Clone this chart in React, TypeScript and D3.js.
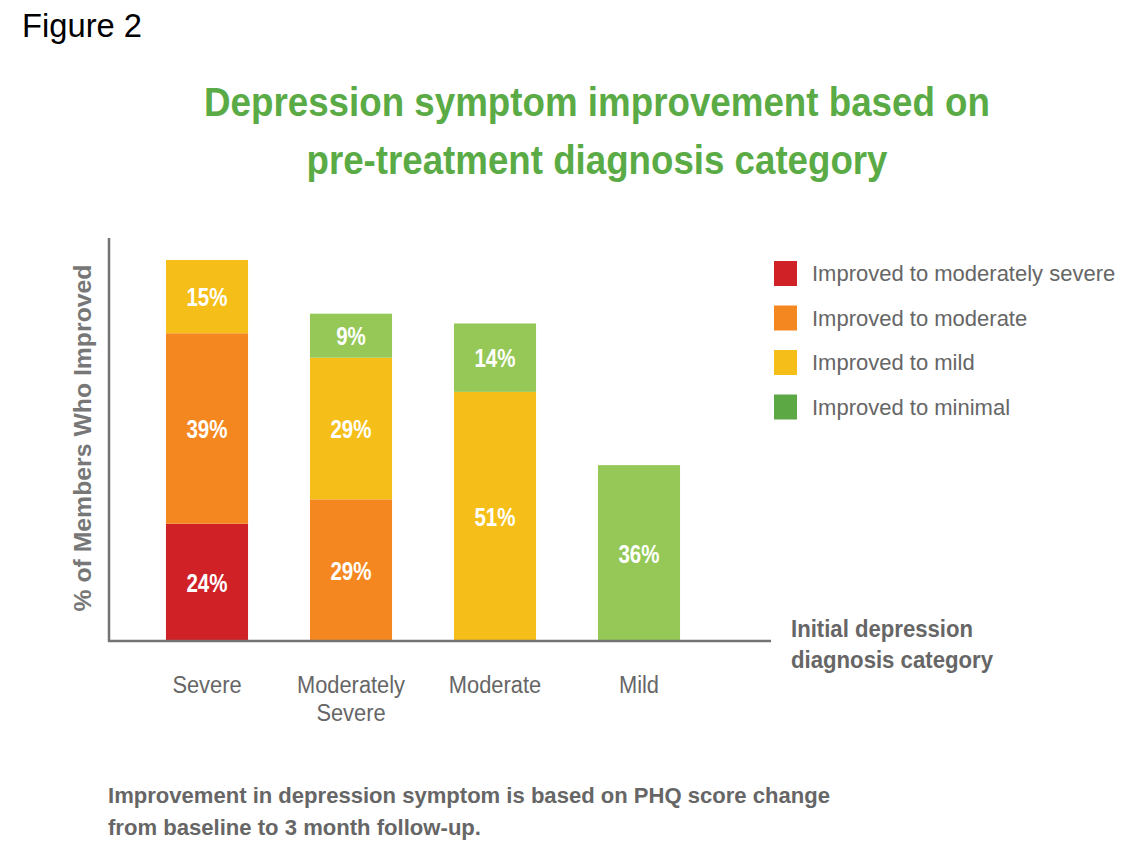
import { useEffect, useRef } from 'react';
import * as d3 from 'd3';

const categories = ['Severe', 'Moderately Severe', 'Moderate', 'Mild'];
const seriesNames = [
	'Improved to moderately severe',
	'Improved to moderate',
	'Improved to mild',
	'Improved to minimal',
];
// percent per category, in series order
const improvedModSevere = [24, 0, 0, 0];
const improvedModerate = [39, 29, 0, 0];
const improvedMild = [15, 29, 51, 0];
const improvedMinimal = [0, 9, 14, 36];

const barColors = ['#d02127', '#f58720', '#f5be18', '#95c857'];
const legendColors = ['#d02127', '#f58720', '#f5be18', '#5ba844'];

const W = 1141;
const H = 846;
const FONT = '"Liberation Sans", Arial, sans-serif';

// squeeze text horizontally so it looks like the narrower original face
const condense = (sel: d3.Selection<SVGTextElement, any, any, any>, f: number) => {
	sel.each(function () {
		const len = this.getComputedTextLength();
		d3.select(this).attr('textLength', len * f).attr('lengthAdjust', 'spacingAndGlyphs');
	});
};

export default function App() {
	const svgRef = useRef<SVGSVGElement>(null);

	useEffect(() => {
		const svg = d3.select(svgRef.current);
		svg.selectAll('*').remove();

		const rows = categories.map((c, i) => ({
			category: c,
			s0: improvedModSevere[i],
			s1: improvedModerate[i],
			s2: improvedMild[i],
			s3: improvedMinimal[i],
		}));
		const keys = ['s0', 's1', 's2', 's3'];
		const stacked = d3.stack<any>().keys(keys)(rows);

		const x = d3.scaleBand()
			.domain(categories)
			.range([135, 711])
			.paddingInner(0.43)
			.paddingOuter(0.215);

		const y = d3.scaleLinear()
			.domain([0, 100])
			.range([641, 152.5]);

		// figure label
		svg.append('text')
			.attr('x', 22).attr('y', 37)
			.attr('font-family', FONT).attr('font-size', 33)
			.attr('fill', '#000')
			.attr('textLength', 120).attr('lengthAdjust', 'spacingAndGlyphs')
			.text('Figure 2');

		// title
		const titleLines = [
			{ t: 'Depression symptom improvement based on', y: 116, w: 786 },
			{ t: 'pre-treatment diagnosis category', y: 174, w: 581 },
		];
		titleLines.forEach(l => {
			svg.append('text')
				.attr('x', 597).attr('y', l.y)
				.attr('text-anchor', 'middle')
				.attr('font-family', FONT).attr('font-size', 41).attr('font-weight', 'bold')
				.attr('fill', '#5aab45')
				.attr('textLength', l.w).attr('lengthAdjust', 'spacingAndGlyphs')
				.text(l.t);
		});

		// bars
		const layer = svg.append('g');
		stacked.forEach((s, si) => {
			layer.append('g')
				.attr('fill', barColors[si])
				.selectAll('rect')
				.data(s.filter(d => d[1] - d[0] > 0))
				.join('rect')
				.attr('x', d => x(d.data.category)!)
				.attr('width', x.bandwidth())
				.attr('y', d => y(d[1]))
				.attr('height', d => y(d[0]) - y(d[1]));

			const labels = layer.append('g')
				.selectAll('text')
				.data(s.filter(d => d[1] - d[0] > 0))
				.join('text')
				.attr('x', d => x(d.data.category)! + x.bandwidth() / 2)
				.attr('y', d => (y(d[0]) + y(d[1])) / 2 + 9.5)
				.attr('text-anchor', 'middle')
				.attr('font-family', FONT).attr('font-size', 25).attr('font-weight', 'bold')
				.attr('fill', '#fff')
				.text(d => `${d[1] - d[0]}%`);
			condense(labels as any, 0.82);
		});

		// axes lines
		svg.append('line')
			.attr('x1', 109).attr('x2', 109)
			.attr('y1', 238).attr('y2', y(0) + 1)
			.attr('stroke', '#747474').attr('stroke-width', 2.5);
		svg.append('line')
			.attr('x1', 108).attr('x2', 771)
			.attr('y1', y(0)).attr('y2', y(0))
			.attr('stroke', '#747474').attr('stroke-width', 2.5);

		// category labels
		categories.forEach(c => {
			const parts = c === 'Moderately Severe' ? ['Moderately', 'Severe'] : [c];
			parts.forEach((p, pi) => {
				const t = svg.append('text')
					.attr('x', x(c)! + x.bandwidth() / 2)
					.attr('y', 693 + pi * 28)
					.attr('text-anchor', 'middle')
					.attr('font-family', FONT).attr('font-size', 23)
					.attr('fill', '#666')
					.text(p);
				condense(t as any, 0.95);
			});
		});

		// y axis title
		svg.append('text')
			.attr('transform', 'translate(91,438) rotate(-90)')
			.attr('text-anchor', 'middle')
			.attr('font-family', FONT).attr('font-size', 24).attr('font-weight', 'bold')
			.attr('fill', '#777')
			.attr('textLength', 347).attr('lengthAdjust', 'spacingAndGlyphs')
			.text('% of Members Who Improved');

		// x axis title
		[{ t: 'Initial depression', w: 182 }, { t: 'diagnosis category', w: 202 }].forEach((l, i) => {
			svg.append('text')
				.attr('x', 791).attr('y', 637 + i * 31)
				.attr('font-family', FONT).attr('font-size', 23).attr('font-weight', 'bold')
				.attr('fill', '#666')
				.attr('textLength', l.w).attr('lengthAdjust', 'spacingAndGlyphs')
				.text(l.t);
		});

		// legend
		const legend = svg.append('g').attr('transform', 'translate(774,261)');
		seriesNames.forEach((n, i) => {
			const g = legend.append('g').attr('transform', `translate(0,${i * 44.5})`);
			g.append('rect')
				.attr('width', 23).attr('height', 25)
				.attr('fill', legendColors[i]);
			g.append('text')
				.attr('x', 38).attr('y', 20)
				.attr('font-family', FONT).attr('font-size', 22)
				.attr('fill', '#666')
				.text(n);
		});

		// footnote
		[
			{ t: 'Improvement in depression symptom is based on PHQ score change', w: 722 },
			{ t: 'from baseline to 3 month follow-up.', w: 373 },
		].forEach((l, i) => {
			svg.append('text')
				.attr('x', 108).attr('y', 803 + i * 32)
				.attr('font-family', FONT).attr('font-size', 22.5).attr('font-weight', 'bold')
				.attr('fill', '#666')
				.attr('textLength', l.w).attr('lengthAdjust', 'spacingAndGlyphs')
				.text(l.t);
		});
	}, []);

	return (
		<svg
			ref={svgRef}
			width={W}
			height={H}
			style={{ position: 'absolute', left: 0, top: 0, background: '#fff' }}
		/>
	);
}
